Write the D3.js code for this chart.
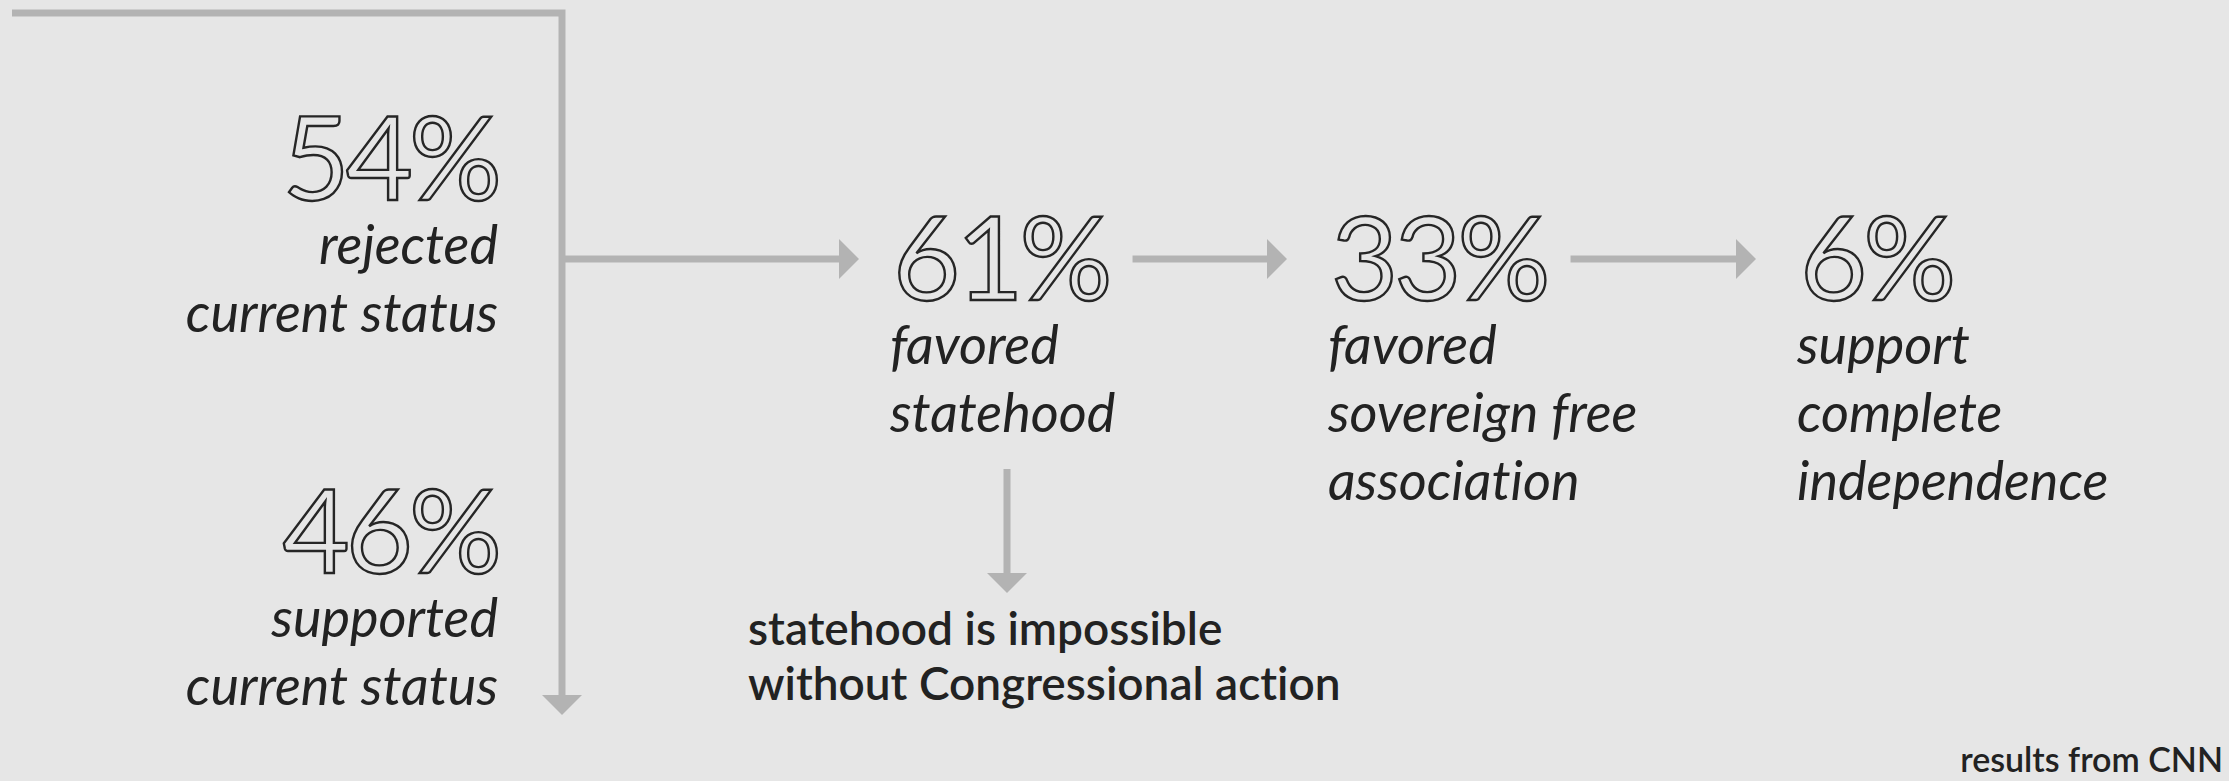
<!DOCTYPE html>
<html>
<head>
<meta charset="utf-8">
<script src="https://cdn.jsdelivr.net/npm/d3@7"></script>
<style>
  html, body { margin: 0; padding: 0; background: #e6e6e6; }
  svg { display: block; }
  text { font-variant-ligatures: none; }
  .pct { font-family: Lato, sans-serif; font-weight: 400; fill: #e6e6e6; stroke: #262626; stroke-width: 2.4px; }
  .lbl { font-family: Lato, sans-serif; font-style: italic; fill: #222; }
  .note { font-family: Lato, sans-serif; font-weight: 600; fill: #222; }
</style>
</head>
<body>
<div id="chart"></div>
<script>
// values
const pctValues = [54, 46, 61, 33, 6];
const pctLabels = [
  ['rejected', 'current status'],
  ['supported', 'current status'],
  ['favored', 'statehood'],
  ['favored', 'sovereign free', 'association'],
  ['support', 'complete', 'independence']
];
const noteLines = ['statehood is impossible', 'without Congressional action'];
const sourceText = 'results from CNN';

const WIDTH = 2229;
const HEIGHT = 781;
const PCT_SIZE = 116;
const LBL_SIZE = 54;
const LINE_H = 68;
const ARROW = '#b3b3b3';
const STROKE = 7;

const svg = d3.select('#chart')
  .append('svg')
  .attr('width', WIDTH)
  .attr('height', HEIGHT);

// layout: left column right-aligned, right row left-aligned
const layout = [
  { x: 498, y: 200, anchor: 'end' },
  { x: 498, y: 573, anchor: 'end' },
  { x: 893, y: 300, anchor: 'start' },
  { x: 1331, y: 300, anchor: 'start' },
  { x: 1800, y: 300, anchor: 'start' }
];

const fmt = d3.format('d');

const nodes = svg.append('g')
  .selectAll('g')
  .data(pctValues)
  .enter()
  .append('g')
  .attr('transform', (d, i) => `translate(${layout[i].x},${layout[i].y})`);

nodes.append('text')
  .attr('class', 'pct')
  .attr('text-anchor', (d, i) => layout[i].anchor)
  .attr('font-size', PCT_SIZE)
  .attr('letter-spacing', -4)
  .text(d => fmt(d) + '%');

nodes.each(function (d, i) {
  const g = d3.select(this);
  pctLabels[i].forEach((line, j) => {
    g.append('text')
      .attr('class', 'lbl')
      .attr('text-anchor', layout[i].anchor)
      .attr('font-size', LBL_SIZE)
      .attr('x', layout[i].anchor === 'start' ? -3 : 0)
      .attr('y', 64 + j * LINE_H)
      .text(line);
  });
});

// arrows
const arrows = svg.append('g');

function arrowHead(tipX, tipY, dir) {
  // dir: 'right' or 'down'
  const pts = dir === 'right'
    ? [[tipX, tipY], [tipX - 20, tipY - 20], [tipX - 20, tipY + 20]]
    : [[tipX, tipY], [tipX - 20, tipY - 20], [tipX + 20, tipY - 20]];
  arrows.append('path')
    .attr('d', d3.line()(pts) + 'Z')
    .attr('fill', ARROW);
}

const trunkX = 562;
const branchY = 259;

// trunk: top bar then down
arrows.append('path')
  .attr('d', d3.line()([[12, 13], [trunkX, 13], [trunkX, 697]]))
  .attr('fill', 'none')
  .attr('stroke', ARROW)
  .attr('stroke-width', STROKE);
arrowHead(trunkX, 715, 'down');

// horizontal arrows between the right-hand numbers
const pctNodes = nodes.select('.pct').nodes();
const rightEdge = i => layout[i].x + pctNodes[i].getBBox().x + pctNodes[i].getBBox().width;
const hops = [
  { x0: trunkX, x1: layout[2].x - 34 },
  { x0: rightEdge(2) + 24, x1: layout[3].x - 44 },
  { x0: rightEdge(3) + 24, x1: layout[4].x - 44 }
];
hops.forEach(h => {
  arrows.append('line')
    .attr('x1', h.x0).attr('x2', h.x1 - 18)
    .attr('y1', branchY).attr('y2', branchY)
    .attr('stroke', ARROW)
    .attr('stroke-width', STROKE);
  arrowHead(h.x1, branchY, 'right');
});

// statehood -> note
const downX = 1007;
arrows.append('line')
  .attr('x1', downX).attr('x2', downX)
  .attr('y1', 469).attr('y2', 576)
  .attr('stroke', ARROW)
  .attr('stroke-width', STROKE);
arrowHead(downX, 593, 'down');

svg.append('g')
  .selectAll('text')
  .data(noteLines)
  .enter()
  .append('text')
  .attr('class', 'note')
  .attr('font-size', 46)
  .attr('x', 748)
  .attr('y', (d, i) => 645 + i * 55)
  .text(d => d);

svg.append('text')
  .attr('class', 'note')
  .attr('font-size', 34)
  .attr('text-anchor', 'end')
  .attr('x', 2223)
  .attr('y', 772)
  .text(sourceText);
</script>
</body>
</html>
